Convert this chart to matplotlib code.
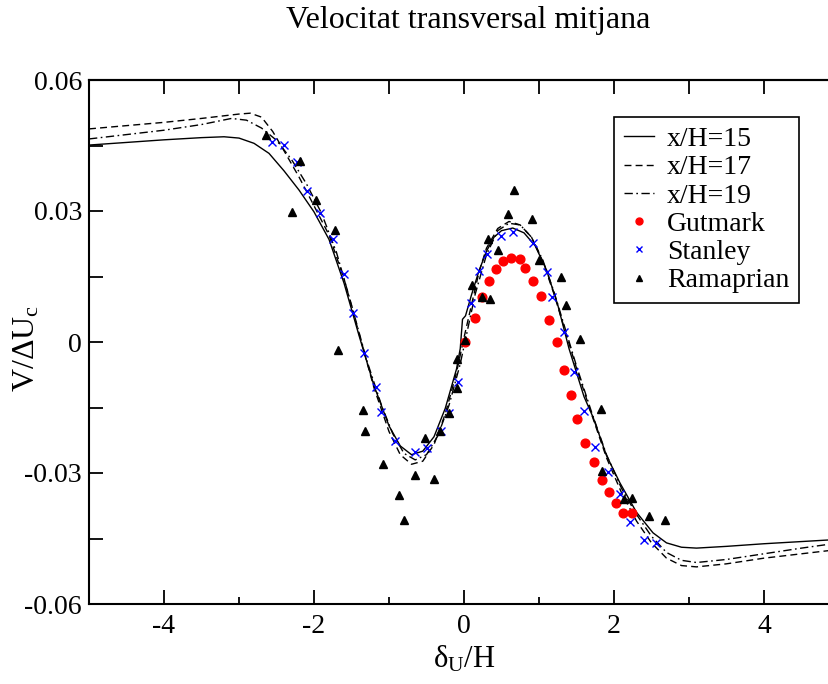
import matplotlib
matplotlib.use("Agg")
import matplotlib.pyplot as plt
from matplotlib.lines import Line2D
from matplotlib.ticker import MultipleLocator

plt.rcParams["font.family"] = ["Liberation Serif", "DejaVu Serif"]
plt.rcParams["mathtext.fontset"] = "custom"
plt.rcParams["mathtext.rm"] = "Liberation Serif"
plt.rcParams["mathtext.it"] = "Liberation Serif:italic"

# --- simulated profiles -------------------------------------------------
x15 = [-5.0, -4.5, -4.0, -3.5, -3.2, -3.0, -2.8, -2.6, -2.4, -2.2, -2.0, -1.8,
       -1.6, -1.4, -1.2, -1.0, -0.85, -0.7, -0.55, -0.4, -0.25, -0.1, -0.05,
       -0.02, 0.02, 0.1, 0.2, 0.3, 0.4, 0.5, 0.65, 0.8, 0.95, 1.1, 1.25, 1.4,
       1.6, 1.72, 1.9, 2.08, 2.3, 2.52, 2.7, 2.9, 3.1, 3.5, 4.0, 4.5, 5.0]
v15 = [0.0451, 0.0457, 0.0463, 0.0468, 0.0470, 0.0467, 0.0455, 0.0432, 0.0392,
       0.0348, 0.0298, 0.0235, 0.0135, 0.0015, -0.0100, -0.0192, -0.0238,
       -0.0258, -0.0250, -0.0217, -0.0152, -0.0062, -0.0015, 0.0052, 0.0060,
       0.0108, 0.0163, 0.0208, 0.0240, 0.0255, 0.0261, 0.0250, 0.0220, 0.0165,
       0.0085, -0.0015, -0.0125, -0.0172, -0.0260, -0.0323, -0.0390, -0.0437,
       -0.0460, -0.0470, -0.0472, -0.0468, -0.0462, -0.0457, -0.0452]

x17 = [-5.0, -4.0, -3.5, -3.0, -2.85, -2.7, -2.55, -2.4, -2.2, -2.0, -1.8,
       -1.6, -1.4, -1.2, -1.0, -0.85, -0.7, -0.55, -0.4, -0.25, -0.1, 0.0,
       0.1, 0.2, 0.3, 0.45, 0.6, 0.75, 0.9, 1.05, 1.2, 1.35, 1.5, 1.7, 1.9,
       2.1, 2.3, 2.5, 2.7, 2.9, 3.1, 3.5, 4.0, 4.5, 5.0]
v17 = [0.0488, 0.0503, 0.0512, 0.0522, 0.0524, 0.0515, 0.0482, 0.0438,
       0.0378, 0.0312, 0.0245, 0.0145, 0.0020, -0.0105, -0.0205, -0.0258,
       -0.0280, -0.0273, -0.0235, -0.0165, -0.0070, 0.0010, 0.0085, 0.0160,
       0.0215, 0.0260, 0.0276, 0.0268, 0.0240, 0.0185, 0.0110, 0.0025,
       -0.0060, -0.0165, -0.0265, -0.0345, -0.0410, -0.0460, -0.0495,
       -0.0512, -0.0515, -0.0508, -0.0495, -0.0485, -0.0475]

x19 = [-5.0, -4.0, -3.5, -3.1, -2.9, -2.7, -2.5, -2.3, -2.1, -1.9, -1.7, -1.5,
       -1.3, -1.1, -0.95, -0.8, -0.65, -0.5, -0.35, -0.2, -0.05, 0.05, 0.15,
       0.3, 0.45, 0.6, 0.75, 0.9, 1.05, 1.2, 1.35, 1.5, 1.7, 1.9, 2.1, 2.3,
       2.5, 2.7, 2.9, 3.1, 3.5, 4.0, 4.5, 5.0]
v19 = [0.0465, 0.0485, 0.0498, 0.0512, 0.0508, 0.0490, 0.0462, 0.0418,
       0.0362, 0.0295, 0.0205, 0.0085, -0.0040, -0.0145, -0.0210, -0.0255,
       -0.0270, -0.0258, -0.0215, -0.0145, -0.0050, 0.0030, 0.0110, 0.0200,
       0.0255, 0.0272, 0.0268, 0.0240, 0.0188, 0.0115, 0.0030, -0.0055,
       -0.0160, -0.0258, -0.0335, -0.0395, -0.0445, -0.0482, -0.0500,
       -0.0505, -0.0498, -0.0485, -0.0472, -0.0460]

# --- experimental data --------------------------------------------------
gut_x = [0.01, 0.147, 0.236, 0.333, 0.427, 0.524, 0.622, 0.747, 0.813, 0.924,
         1.022, 1.138, 1.236, 1.338, 1.427, 1.507, 1.613, 1.733, 1.836, 1.929,
         2.027, 2.116, 2.244]
gut_v = [0.0000, 0.0056, 0.0104, 0.0140, 0.0167, 0.0186, 0.0192, 0.0189,
         0.0169, 0.0140, 0.0105, 0.0050, 0.0001, -0.0064, -0.0121, -0.0176,
         -0.0231, -0.0274, -0.0317, -0.0343, -0.0368, -0.0392, -0.0392]

stan_x = [-2.564, -2.40, -2.222, -2.089, -1.924, -1.747, -1.60, -1.48, -1.337,
          -1.178, -1.111, -0.924, -0.658, -0.493, -0.307, -0.20, -0.084,
          0.089, 0.204, 0.302, 0.489, 0.658, 0.924, 1.111, 1.178, 1.333, 1.471,
          1.604, 1.751, 1.924, 2.08, 2.213, 2.396, 2.56]
stan_v = [0.0457, 0.0452, 0.0412, 0.0346, 0.0296, 0.0237, 0.0155, 0.0067,
          -0.0025, -0.0104, -0.0161, -0.0227, -0.0252, -0.0243, -0.0204,
          -0.0163, -0.0091, 0.0090, 0.0163, 0.0202, 0.0243, 0.0253, 0.0226,
          0.0160, 0.0102, 0.0022, -0.0069, -0.0157, -0.0240, -0.0297, -0.0348,
          -0.0413, -0.0454, -0.0460]

rama_x = [-2.64, -2.19, -2.297, -1.978, -1.72, -1.684, -1.342, -1.316, -1.084,
          -0.871, -0.804, -0.649, -0.524, -0.404, -0.324, -0.20, -0.098,
          -0.089, 0.013, 0.102, 0.244, 0.347, 0.324, 0.458, 0.582, 0.667,
          0.907, 1.0, 1.289, 1.36, 1.547, 1.827, 1.836, 2.138, 2.24, 2.471,
          2.676]
rama_v = [0.0474, 0.0415, 0.0298, 0.0325, 0.0257, -0.0018, -0.0156, -0.0204,
          -0.0280, -0.0350, -0.0407, -0.0305, -0.0219, -0.0314, -0.0204,
          -0.0163, -0.0106, -0.0039, 0.0005, 0.0130, 0.0102, 0.0098, 0.0236,
          0.0211, 0.0292, 0.0348, 0.0282, 0.0188, 0.0148, 0.0085, 0.0008,
          -0.0153, -0.0295, -0.0360, -0.0358, -0.0398, -0.0408]

W, H = 829, 684
fig = plt.figure(figsize=(W / 100, H / 100), dpi=100)
ax = fig.add_axes([89 / W, 1 - 604 / H, 750 / W, 524 / H])

lw = 1.0
ax.plot(x15, v15, color="black", lw=lw, ls="-")
ax.plot(x17, v17, color="black", lw=lw, ls=(0, (5, 3)))
ax.plot(x19, v19, color="black", lw=lw, ls=(0, (6, 2.5, 1.2, 2.5)))
ax.plot(gut_x, gut_v, ls="none", marker="o", ms=6.3, color="red", mec="red")
ax.plot(stan_x, stan_v, ls="none", marker="x", ms=6, mew=1.0, color="blue")
ax.plot(rama_x, rama_v, ls="none", marker="^", ms=6.3, color="black")

ax.set_xlim(-5, 5)
ax.set_ylim(-0.06, 0.06)
ax.xaxis.set_minor_locator(MultipleLocator(1))
ax.yaxis.set_minor_locator(MultipleLocator(0.015))
ax.set_xticks([-4, -2, 0, 2, 4])
ax.set_xticklabels(["-4", "-2", "0", "2", "4"])
ax.set_yticks([-0.06, -0.03, 0, 0.03, 0.06])
ax.set_yticklabels(["-0.06", "-0.03", "0", "0.03", "0.06"])

ax.tick_params(axis="both", which="both", direction="in", width=1.3,
               labelsize=20, top=False, right=False)
ax.tick_params(axis="x", which="major", length=10, pad=7)
ax.tick_params(axis="x", which="minor", length=5)
ax.tick_params(axis="y", which="both", length=10, pad=5)
for s in ax.spines.values():
    s.set_linewidth(1.5)
ax.spines["right"].set_visible(False)

# ticks along the top edge every unit, all long
top = ax.secondary_xaxis("top")
top.set_xticks([-5, -4, -3, -2, -1, 0, 1, 2, 3, 4, 5])
top.tick_params(direction="in", length=10, width=1.3, labeltop=False)
top.spines["top"].set_linewidth(1.5)

fig.text(468 / W, 1 - 28 / H, "Velocitat transversal mitjana", fontsize=23,
         ha="center", va="baseline")
fig.text(27 / W, 1 - 348 / H, r"$\mathrm{V/\Delta U_c}$", fontsize=23,
         rotation=90, ha="center", va="center")
fig.text(464 / W, 1 - 659 / H, r"$\mathrm{\delta_U/H}$", fontsize=22,
         ha="center", va="center")

handles = [
    Line2D([], [], color="black", lw=lw, ls="-"),
    Line2D([], [], color="black", lw=lw, ls=(0, (5, 3))),
    Line2D([], [], color="black", lw=lw, ls=(0, (6, 2.5, 1.2, 2.5))),
    Line2D([], [], ls="none", marker="o", ms=5, color="red"),
    Line2D([], [], ls="none", marker="x", ms=5, mew=1.0, color="blue"),
    Line2D([], [], ls="none", marker="^", ms=5, color="black"),
]
labels = ["x/H=15", "x/H=17", "x/H=19", "Gutmark", "Stanley", "Ramaprian"]
leg = ax.legend(handles, labels, loc="upper left",
                bbox_to_anchor=(614 / W, 1 - 117 / H),
                bbox_transform=fig.transFigure, fontsize=20, frameon=True,
                fancybox=False, edgecolor="black", framealpha=1,
                handlelength=1.1, handletextpad=0.45, labelspacing=0.1,
                borderpad=0.35, borderaxespad=0)
leg.get_frame().set_linewidth(1.2)

fig.savefig("out.png", dpi=100)
